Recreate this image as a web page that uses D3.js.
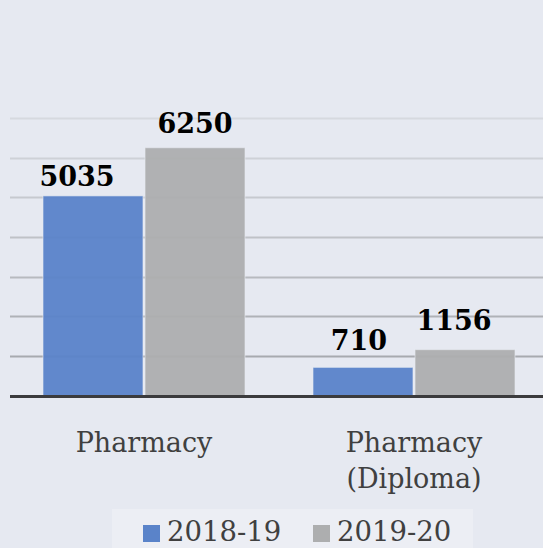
<!DOCTYPE html>
<html>
<head>
<meta charset="utf-8">
<script src="https://cdn.jsdelivr.net/npm/d3@7"></script>
<style>
  html, body { margin: 0; padding: 0; background: #e6e9f1; }
  svg { display: block; }
</style>
</head>
<body>
<svg id="chart" width="543" height="548"></svg>
<script>
// ---- data ----
const categories = ["Pharmacy", "Pharmacy\n(Diploma)"];
const seriesNames = ["2018-19", "2019-20"];
const values2018 = [5035, 710];
const values2019 = [6250, 1156];
const yTicks = [0, 1000, 2000, 3000, 4000, 5000, 6000, 7000];

// ---- layout ----
const W = 543, H = 548;
const svg = d3.select("#chart");
const colors = ["#5a83c9", "#adaeaf"];
const plotLeft = 9, plotRight = 549;
const x0 = d3.scaleBand().domain(categories).range([plotLeft, plotRight]).paddingInner(0).paddingOuter(0).align(0.5);
const innerW = 202;
const x1 = d3.scaleBand().domain(seriesNames).range([0, innerW]).paddingInner(0.02);
const y = d3.scaleLinear().domain([0, 7000]).range([395.5, 118]);

svg.append("rect").attr("width", W).attr("height", H).attr("fill", "#e6e9f1");

// gridlines
const gridCol = d3.scaleLinear().domain([7000, 1000]).range(["#d6d9df", "#a7aaaf"]);
svg.append("g").selectAll("line").data(yTicks.filter(t => t > 0)).join("line")
  .attr("x1", 10).attr("x2", W)
  .attr("y1", d => Math.round(y(d)) + 0.5).attr("y2", d => Math.round(y(d)) + 0.5)
  .attr("stroke", d => gridCol(d)).attr("stroke-width", 2);

// bars
const rows = categories.map((c, i) => ({ cat: c, vals: [values2018[i], values2019[i]] }));
const groups = svg.append("g").selectAll("g").data(rows).join("g")
  .attr("transform", d => `translate(${x0(d.cat) + (x0.bandwidth() - innerW) / 2},0)`);
groups.selectAll("rect").data(d => d.vals.map((v, j) => ({ v, s: seriesNames[j], j }))).join("rect")
  .attr("x", d => x1(d.s)).attr("width", x1.bandwidth())
  .attr("y", d => y(d.v)).attr("height", d => y(0) - y(d.v))
  .attr("fill", d => colors[d.j]).attr("fill-opacity", 0.95)
  .attr("stroke", "#e9ecf3").attr("stroke-opacity", 0.6).attr("stroke-width", 1);

// value labels (small manual nudges as in the reference)
const nudge = [[[-16, -10], [0, -15]], [[-4, -17], [-11, -20]]];
groups.selectAll("text").data((d, i) => d.vals.map((v, j) => ({ v, s: seriesNames[j], j, i }))).join("text")
  .attr("x", d => x1(d.s) + x1.bandwidth() / 2 + nudge[d.i][d.j][0])
  .attr("y", d => y(d.v) + nudge[d.i][d.j][1])
  .attr("text-anchor", "middle")
  .attr("font-family", "'DejaVu Serif', serif").attr("font-weight", "bold")
  .attr("font-size", 27).attr("fill", "#000")
  .text(d => d.v);

// baseline
svg.append("line").attr("x1", 10).attr("x2", W).attr("y1", 396.5).attr("y2", 396.5)
  .attr("stroke", "#3b3b3d").attr("stroke-width", 3);

// category labels
const catG = svg.append("g");
categories.forEach(c => {
  const t = catG.append("text")
    .attr("text-anchor", "middle")
    .attr("font-family", "'DejaVu Serif', serif").attr("font-size", 27)
    .attr("fill", "#404040");
  c.split("\n").forEach((line, k) => {
    t.append("tspan").attr("x", x0(c) + x0.bandwidth() / 2).attr("y", 452 + k * 36).text(line);
  });
});

// legend
svg.append("rect").attr("x", 112).attr("y", 509).attr("width", 361).attr("height", 45).attr("fill", "#eceef4");
const legX = [143, 313];
seriesNames.forEach((s, j) => {
  svg.append("rect").attr("x", legX[j]).attr("y", 525).attr("width", 17).attr("height", 17).attr("fill", colors[j]);
  svg.append("text").attr("x", legX[j] + 24).attr("y", 541)
    .attr("font-family", "'DejaVu Serif', serif").attr("font-size", 27.5).attr("fill", "#404040")
    .text(s);
});
</script>
</body>
</html>
